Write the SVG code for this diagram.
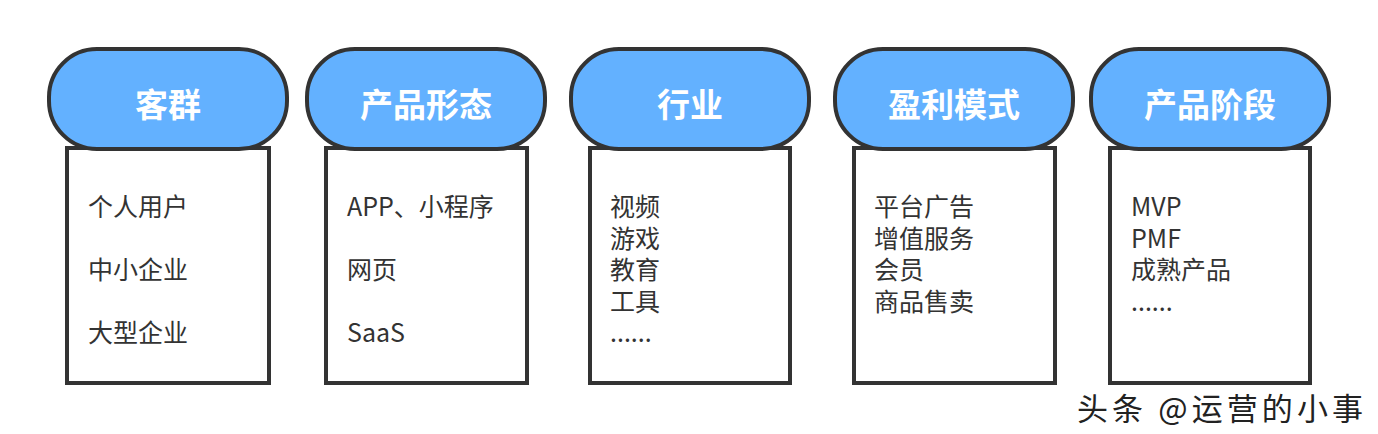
<svg xmlns="http://www.w3.org/2000/svg" width="1378" height="434" viewBox="0 0 1378 434">
<style>
.pill{fill:#63b1ff;stroke:#333;stroke-width:4}
.box{fill:#fff;stroke:#333;stroke-width:4}
.h{font-family:"Noto Sans CJK SC","Noto Sans",sans-serif;font-weight:bold;font-size:33px;fill:#fff;text-anchor:middle}
.t{font-family:"Noto Sans CJK SC","Noto Sans",sans-serif;font-size:25px;fill:#333}
.w{font-family:"Noto Sans CJK SC",sans-serif;font-size:31px;fill:#222}
</style>
<rect width="1378" height="434" fill="#fff"/>
<g id="n1">
<rect class="box" x="67" y="148" width="202" height="235"/>
<rect class="pill" x="49" y="49" width="238" height="100" rx="48"/>
<text class="h" x="168" y="117">客群</text>
<text class="t" x="88" y="216">个人用户</text>
<text class="t" x="88" y="279">中小企业</text>
<text class="t" x="88" y="342">大型企业</text>
</g>
<g id="n2">
<rect class="box" x="326" y="148" width="201" height="235"/>
<rect class="pill" x="307" y="49" width="238" height="100" rx="48"/>
<text class="h" x="426" y="117">产品形态</text>
<text class="t" x="347" y="216">APP、小程序</text>
<text class="t" x="347" y="279">网页</text>
<text class="t" x="347" y="342">SaaS</text>
</g>
<g id="n3">
<rect class="box" x="590" y="148" width="200" height="235"/>
<rect class="pill" x="571" y="49" width="238" height="100" rx="48"/>
<text class="h" x="690" y="117">行业</text>
<text class="t" x="610" y="216">视频</text>
<text class="t" x="610" y="247.5">游戏</text>
<text class="t" x="610" y="279">教育</text>
<text class="t" x="610" y="310.5">工具</text>
<text class="t" x="610" y="342">......</text>
</g>
<g id="n4">
<rect class="box" x="854" y="148" width="201" height="235"/>
<rect class="pill" x="835" y="49" width="238" height="100" rx="48"/>
<text class="h" x="954" y="117">盈利模式</text>
<text class="t" x="874" y="216">平台广告</text>
<text class="t" x="874" y="247.5">增值服务</text>
<text class="t" x="874" y="279">会员</text>
<text class="t" x="874" y="310.5">商品售卖</text>
</g>
<g id="n5">
<rect class="box" x="1110" y="148" width="200" height="235"/>
<rect class="pill" x="1091" y="49" width="238" height="100" rx="48"/>
<text class="h" x="1210" y="117">产品阶段</text>
<text class="t" x="1131" y="216">MVP</text>
<text class="t" x="1131" y="247.5">PMF</text>
<text class="t" x="1131" y="279">成熟产品</text>
<text class="t" x="1131" y="310.5">......</text>
</g>
<g id="connectors"></g>
<text class="w" x="1077" y="420" textLength="286" lengthAdjust="spacing" stroke="#fff" stroke-width="3" fill="#fff">头条 @运营的小事</text>
<text class="w" x="1077" y="420" textLength="286" lengthAdjust="spacing">头条 @运营的小事</text>
</svg>
